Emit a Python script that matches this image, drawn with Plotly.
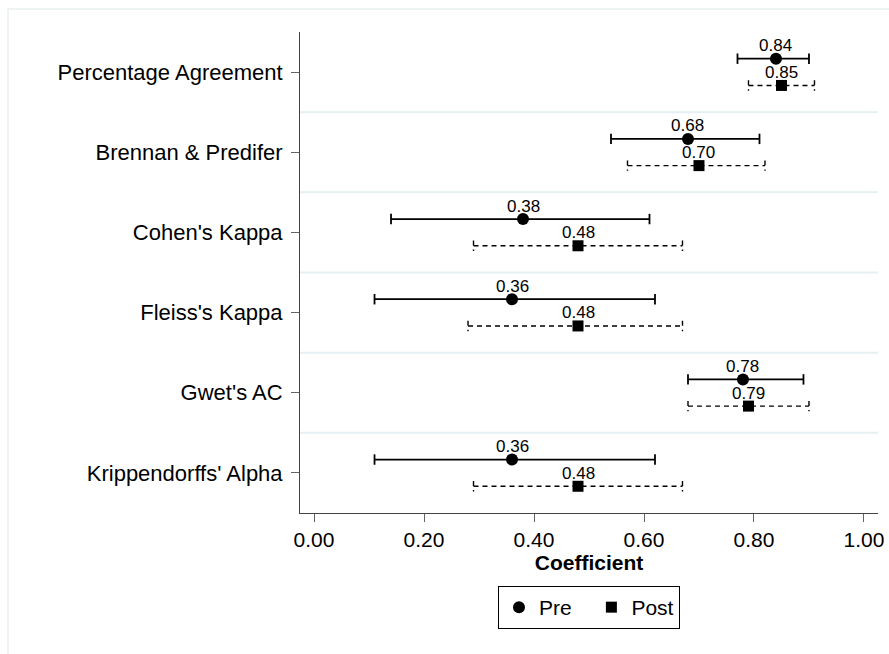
import plotly.graph_objects as go

categories = ["Percentage Agreement", "Brennan & Predifer", "Cohen's Kappa",
              "Fleiss's Kappa", "Gwet's AC", "Krippendorffs' Alpha"]
pre_est = [0.84, 0.68, 0.38, 0.36, 0.78, 0.36]
pre_lo = [0.77, 0.54, 0.14, 0.11, 0.68, 0.11]
pre_hi = [0.90, 0.81, 0.61, 0.62, 0.89, 0.62]
post_est = [0.85, 0.70, 0.48, 0.48, 0.79, 0.48]
post_lo = [0.79, 0.57, 0.29, 0.28, 0.68, 0.29]
post_hi = [0.91, 0.82, 0.67, 0.67, 0.90, 0.67]
x_ticks = [0.0, 0.2, 0.4, 0.6, 0.8, 1.0]

FONT = "Liberation Sans, Arial, Helvetica, sans-serif"
OFF = 1 / 6
CAP = 0.065

pos = list(range(len(categories)))
pre_y = [p - OFF for p in pos]
post_y = [p + OFF for p in pos]


def ci_path(lo, hi, ys):
    xs, yy = [], []
    for a, b, y in zip(lo, hi, ys):
        xs += [a, b, None, a, a, None, b, b, None]
        yy += [y, y, None, y - CAP, y + CAP, None, y - CAP, y + CAP, None]
    return xs, yy


fig = go.Figure()

xs, yy = ci_path(pre_lo, pre_hi, pre_y)
fig.add_trace(go.Scatter(x=xs, y=yy, mode="lines", line=dict(color="black", width=1.8),
                         showlegend=False, hoverinfo="skip"))
xs, yy = ci_path(post_lo, post_hi, post_y)
fig.add_trace(go.Scatter(x=xs, y=yy, mode="lines",
                         line=dict(color="black", width=1.4, dash="5px,4px"),
                         showlegend=False, hoverinfo="skip"))

fig.add_trace(go.Scatter(x=pre_est, y=pre_y, mode="markers", name="Pre\u2002\u2009",
                         marker=dict(symbol="circle", size=12, color="black")))
fig.add_trace(go.Scatter(x=post_est, y=post_y, mode="markers", name="Post",
                         marker=dict(symbol="square", size=11, color="black")))

annotations = []
for x, y in zip(pre_est, pre_y):
    annotations.append(dict(x=x, y=y, text=f"{x:.2f}", showarrow=False, yshift=13,
                            font=dict(size=17, color="black", family=FONT)))
for x, y in zip(post_est, post_y):
    annotations.append(dict(x=x, y=y, text=f"{x:.2f}", showarrow=False, yshift=13,
                            font=dict(size=17, color="black", family=FONT)))

shapes = []
for i in range(len(categories) - 1):
    shapes.append(dict(type="line", xref="paper", yref="y", x0=0, x1=1,
                       y0=i + 0.5, y1=i + 0.5, line=dict(color="#e6eff1", width=2),
                       layer="below"))
# outer region border
shapes.append(dict(type="rect", xref="paper", yref="paper",
                   x0=(8 - 300) / 578, x1=(940 - 300) / 578,
                   y0=(513 - 700) / 481, y1=(513 - 9) / 481,
                   line=dict(color="#e9efef", width=1.5), layer="below"))

fig.update_layout(
    width=889, height=654,
    margin=dict(l=300, r=11, t=32, b=141, autoexpand=False),
    paper_bgcolor="white", plot_bgcolor="white",
    font=dict(family=FONT, size=21, color="black"),
    shapes=shapes, annotations=annotations,
    legend=dict(orientation="h", x=0.5, xanchor="center", y=(513 - 586) / 481,
                yanchor="top", bordercolor="black", borderwidth=1,
                font=dict(size=21, family=FONT), itemwidth=30, tracegroupgap=0),
)

fig.update_xaxes(
    range=[-0.0255, 1.0255], tickvals=x_ticks, automargin=False,
    ticktext=[f"{v:.2f}" for v in x_ticks],
    showgrid=False, zeroline=False, showline=True, linecolor="#444", linewidth=1,
    ticks="outside", ticklen=8, tickcolor="#666", tickwidth=1,
    tickfont=dict(size=21, family=FONT),
    title=dict(text="<b>Coefficient</b>", font=dict(size=21, family=FONT), standoff=2),
)
fig.update_yaxes(
    range=[5.5, -0.5], tickvals=pos, ticktext=categories, automargin=False,
    showgrid=False, zeroline=False, showline=True, linecolor="#444", linewidth=1,
    ticks="outside", ticklen=8, tickcolor="#666", tickwidth=1, ticklabelstandoff=4,
    tickfont=dict(size=22, family=FONT),
)

fig.write_html("out.html")
